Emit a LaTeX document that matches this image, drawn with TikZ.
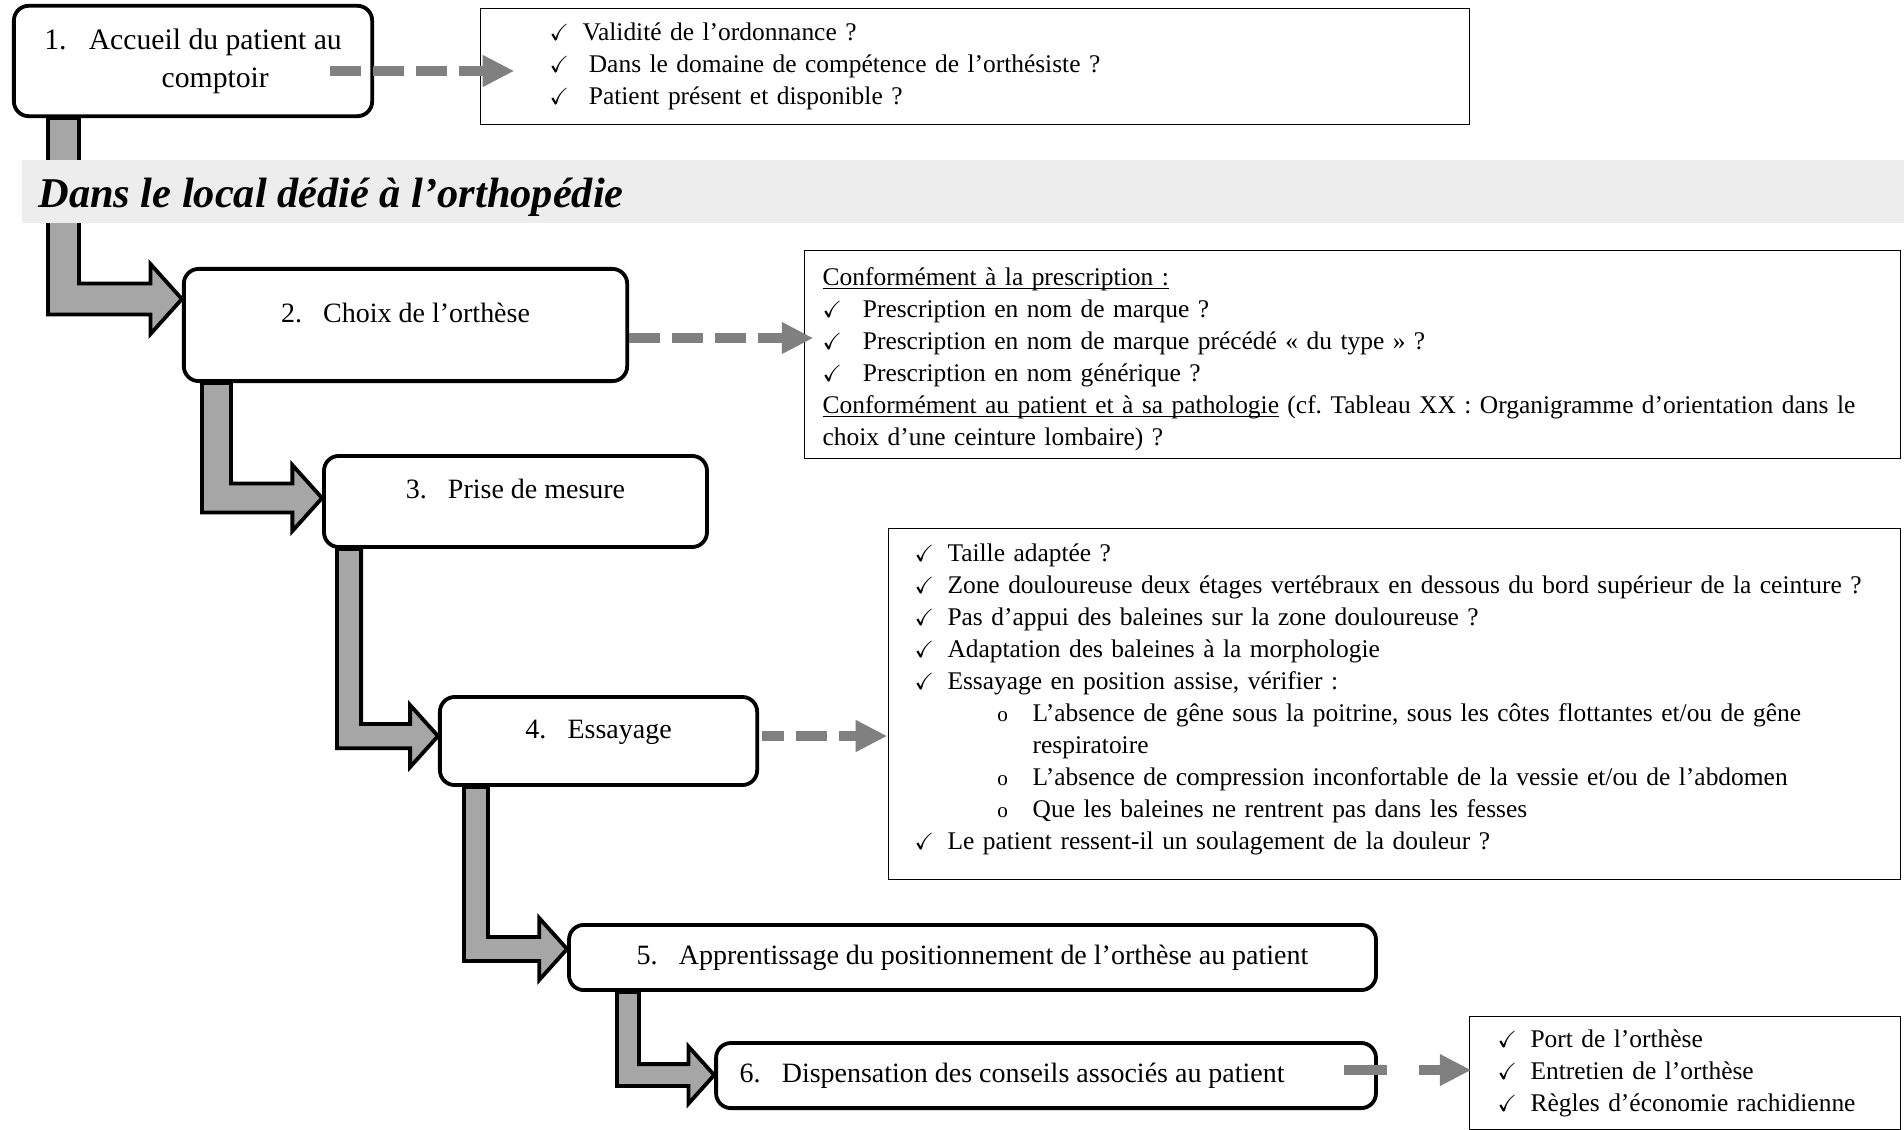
\documentclass[tikz,border=0pt]{standalone}
\usepackage{fontspec}
\usepackage{amsmath}
\usepackage{amssymb}
\setmainfont{Liberation Serif}
\usetikzlibrary{arrows.meta, calc}
\definecolor{bandgris}{RGB}{237,237,237}
\definecolor{flechegris}{RGB}{166,166,166}
\definecolor{tiretgris}{RGB}{128,128,128}
\frenchspacing

\newcommand{\coche}[2][15.5pt]{\makebox[#1][l]{\fontsize{11}{11}\selectfont$\checkmark$}#2}
\newcommand{\sousitem}[1]{\hspace*{39pt}\makebox[16.7pt][l]{\fontsize{10}{10}\selectfont o}#1}
\newcommand{\suite}[1]{\hspace*{55.7pt}#1}
\newcommand{\numero}[2]{#1.\hspace{10pt}#2}
\newcommand{\souligne}[1]{\underline{\smash[b]{#1}}}
% block arrow bent at a right angle: source, target, shaft offset, tip offset, half shaft, half head
\newcommand{\coude}[6]{%
  \draw[fleche] let \p1=($(#1.south west)+(#3,0)$), \p2=($(#2.north west)+(0,-#4)$) in
    ({\x1-#5},\y1) -- ({\x1-#5},{\y2-#5}) -- ({\x2-0.9*#6},{\y2-#5})
    -- ({\x2-0.9*#6},{\y2-#6}) -- (\x2,\y2) -- ({\x2-0.9*#6},{\y2+#6})
    -- ({\x2-0.9*#6},{\y2+#5}) -- ({\x1+#5},{\y2+#5}) -- ({\x1+#5},\y1) -- cycle;}

\begin{document}
\begin{tikzpicture}[
    font=\fontsize{12}{15.1}\selectfont,
    etape/.style={draw, line width=1.8pt, rounded corners=7pt, fill=white, align=center, font=\fontsize{13.2}{16}\selectfont},
    haut/.style={text height=9pt, text depth=11.5pt},
    verif/.style={draw, line width=0.6pt, anchor=north west, align=left, inner ysep=0pt},
    fleche/.style={draw=black, line width=1.8pt, fill=flechegris},
    tiret/.style={-{Triangle[length=0.51cm, width=0.53cm, line width=0.4pt]}, line width=0.166cm, draw=tiretgris, dash pattern=on 0.514cm off 0.199cm},
    titre/.style={font=\fontsize{20}{24}\selectfont\bfseries\itshape, inner sep=0pt},
]
\useasboundingbox (0,0) rectangle (31.566,-18.718);

% --- Etapes ---
\node[etape, font=\fontsize{14}{18}\selectfont, minimum width=5.94cm, minimum height=1.83cm] (accueil) at (3.200,-1.011)
    {1.\hspace{10.5pt}\begin{tabular}[t]{@{}c@{}}Accueil du patient au\\comptoir\end{tabular}};
\node[etape, haut, minimum width=7.35cm, minimum height=1.86cm] (choix) at (6.723,-5.388) {\numero{2}{Choix de l’orthèse}};
\node[etape, haut, minimum width=6.35cm, minimum height=1.51cm] (mesure) at (8.546,-8.314) {\numero{3}{Prise de mesure}};
\node[etape, haut, minimum width=5.26cm, minimum height=1.46cm] (essayage) at (9.923,-12.285) {\numero{4}{Essayage}};
\node[etape, minimum width=13.38cm, minimum height=1.08cm] (apprent) at (16.123,-15.874) {\numero{5}{Apprentissage du positionnement de l’orthèse au patient}};
\node[etape, minimum width=10.94cm, minimum height=1.08cm] (conseils) at (17.342,-17.831) {\numero{6}{Dispensation des conseils associés au patient}\hspace*{32pt}};

% --- Fleche 1 -> 2, sous le bandeau ---
\coude{accueil}{choix}{0.854}{0.531}{0.257cm}{0.58cm}

% --- Bandeau ---
\node[fill=bandgris, anchor=north west, minimum width=31.2cm, minimum height=1.044cm, inner sep=0pt] (bandeau) at (0.365,-2.653) {};
\node[titre, anchor=base west] (local) at (0.63,-3.448) {Dans le local dédié à l’orthopédie};

% --- Fleches coudees ---
\coude{choix}{mesure}{0.572}{0.729}{0.24cm}{0.547cm}
\coude{mesure}{essayage}{0.448}{0.68}{0.2cm}{0.514cm}
\coude{essayage}{apprent}{0.63}{0.431}{0.2cm}{0.514cm}
\coude{apprent}{conseils}{1.011}{0.564}{0.182cm}{0.473cm}

% --- Points de controle ---
\node[verif, minimum height=1.923cm, inner xsep=1.144cm, text width=14.109cm] (ctrlaccueil) at (7.958,-0.133)
    {\coche{Validité de l’ordonnance ?}\\
     \coche[18.5pt]{Dans le domaine de compétence de l’orthésiste ?}\\
     \coche[18.5pt]{Patient présent et disponible ?}};
\node[verif, minimum height=3.448cm, inner xsep=0.298cm, text width=17.574cm] (ctrlchoix) at (13.330,-4.145)
    {\rule{0pt}{12.5pt}\souligne{Conformément à la prescription :}\\
     \coche[19pt]{Prescription en nom de marque ?}\\
     \coche[19pt]{Prescription en nom de marque précédé «~du type~» ?}\\
     \coche[19pt]{Prescription en nom générique ?}\\
     \souligne{Conformément au patient et à sa pathologie} (cf. Tableau XX : Organigramme d’orientation dans le\\
     choix d’une ceinture lombaire) ?};
\node[verif, minimum height=5.819cm, inner xsep=0.431cm, text width=15.916cm] (ctrlessai) at (14.722,-8.754)
    {\coche{Taille adaptée ?}\\
     \coche{Zone douloureuse deux étages vertébraux en dessous du bord supérieur de la ceinture ?}\\
     \coche{Pas d’appui des baleines sur la zone douloureuse ?}\\
     \coche{Adaptation des baleines à la morphologie}\\
     \coche{Essayage en position assise, vérifier :}\\
     \sousitem{L’absence de gêne sous la poitrine, sous les côtes flottantes et/ou de gêne}\\
     \suite{respiratoire}\\
     \sousitem{L’absence de compression inconfortable de la vessie et/ou de l’abdomen}\\
     \sousitem{Que les baleines ne rentrent pas dans les fesses}\\
     \coche{Le patient ressent-il un soulagement de la douleur ?}\rule[-7.5pt]{0pt}{0pt}};
\node[verif, minimum height=1.873cm, inner xsep=0.464cm, text width=6.218cm] (ctrlconseils) at (24.355,-16.844)
    {\coche{Port de l’orthèse}\\
     \coche{Entretien de l’orthèse}\\
     \coche{Règles d’économie rachidienne}};

% --- Fleches pointillees vers les controles ---
\draw[tiret] ($(accueil.east)+(-0.73,-0.166)$) coordinate (t1) -- ($(t1 -| ctrlaccueil.west)+(0.555,0)$);
\draw[tiret] ($(choix.east)+(0,-0.216)$) coordinate (t2) -- ($(t2 -| ctrlchoix.west)+(0.141,0)$);
\draw[tiret, dash phase=0.149cm] ($(essayage.east)+(0.05,0.083)$) coordinate (t4) -- ($(t4 -| ctrlessai.west)+(-0.025,0)$);
\draw[tiret, dash pattern=on 0.713cm off 0.53cm] ($(conseils.east)+(-0.564,0.091)$) coordinate (t6) -- ($(t6 -| ctrlconseils.west)+(0.025,0)$);

\end{tikzpicture}
\end{document}
